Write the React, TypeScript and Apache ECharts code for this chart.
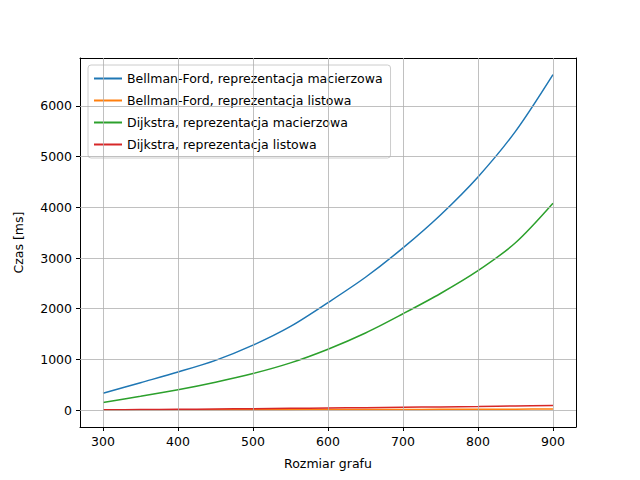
import React, { useEffect, useRef } from "react";
import * as echarts from "echarts";

const sizes = [300, 350, 400, 450, 500, 550, 600, 650, 700, 750, 800, 850, 900];
const bfMatrix = [330, 540, 750, 980, 1280, 1650, 2120, 2620, 3200, 3850, 4600, 5500, 6620];
const bfList = [2, 3, 4, 5, 6, 7, 9, 10, 11, 13, 15, 17, 20];
const djMatrix = [150, 270, 400, 550, 720, 930, 1200, 1520, 1900, 2300, 2750, 3300, 4080];
const djList = [5, 10, 15, 20, 27, 33, 40, 47, 54, 62, 70, 80, 90];
const xTicks = [300, 400, 500, 600, 700, 800, 900];
const yTicks = [0, 1000, 2000, 3000, 4000, 5000, 6000];
const names = [
  "Bellman-Ford, reprezentacja macierzowa",
  "Bellman-Ford, reprezentacja listowa",
  "Dijkstra, reprezentacja macierzowa",
  "Dijkstra, reprezentacja listowa",
];
const colors = ["#1f77b4", "#ff7f0e", "#2ca02c", "#d62728"];

export default function App() {
  const ref = useRef<HTMLDivElement>(null);
  useEffect(() => {
    const chart = echarts.init(ref.current!, null, { renderer: "svg" });
    const font = "DejaVu Sans";
    const series: any[] = [bfMatrix, bfList, djMatrix, djList].map((d, i) => ({
      name: names[i],
      type: "line",
      data: sizes.map((s, j) => [s, d[j]]),
      showSymbol: false,
      smooth: 0.3,
      lineStyle: { color: colors[i], width: 1.5 },
      itemStyle: { color: colors[i] },
      z: 3,
    }));
    series.push({
      type: "line",
      data: [],
      z: 1,
      markLine: {
        silent: true,
        symbol: "none",
        label: { show: false },
        lineStyle: { color: "#b0b0b0", type: "solid", width: 0.8 },
        data: [...xTicks.map((x) => ({ xAxis: x })), ...yTicks.map((y) => ({ yAxis: y }))],
      },
    });
    const label = { fontSize: 12.5, color: "#000", fontFamily: font, formatter: (v: number) => String(v) };
    const frame = { show: true, lineStyle: { color: "#000", width: 1 }, onZero: false };
    chart.setOption({
      animation: false,
      textStyle: { fontFamily: font },
      grid: { left: 80, right: 64, top: 58, bottom: 53 },
      legend: {
        orient: "vertical",
        left: 88,
        top: 65,
        data: names,
        icon: "rect",
        itemWidth: 28,
        itemHeight: 2,
        itemGap: 9,
        padding: [7, 8, 7, 6],
        backgroundColor: "rgba(255,255,255,0.8)",
        borderColor: "#cccccc",
        borderWidth: 1,
        borderRadius: 3,
        textStyle: { fontFamily: font, fontSize: 12.5, color: "#000" },
      },
      xAxis: [
        {
          type: "value",
          min: 269.3,
          max: 930.7,
          name: "Rozmiar grafu",
          nameLocation: "middle",
          nameGap: 30,
          nameTextStyle: { fontSize: 12.5, color: "#000", fontFamily: font },
          axisLine: frame,
          axisTick: { show: true, customValues: xTicks, length: 4, lineStyle: { color: "#000" } },
          axisLabel: { ...label, customValues: xTicks },
          splitLine: { show: false },
        },
        {
          type: "value",
          position: "top",
          min: 269.3,
          max: 930.7,
          axisLine: frame,
          axisTick: { show: false },
          axisLabel: { show: false },
          splitLine: { show: false },
        },
      ],
      yAxis: [
        {
          type: "value",
          min: -335,
          max: 6947,
          name: "Czas [ms]",
          nameLocation: "middle",
          nameGap: 55,
          nameTextStyle: { fontSize: 12.5, color: "#000", fontFamily: font },
          axisLine: frame,
          axisTick: { show: true, customValues: yTicks, length: 4, lineStyle: { color: "#000" } },
          axisLabel: { ...label, customValues: yTicks },
          splitLine: { show: false },
        },
        {
          type: "value",
          position: "right",
          min: -335,
          max: 6947,
          axisLine: frame,
          axisTick: { show: false },
          axisLabel: { show: false },
          splitLine: { show: false },
        },
      ],
      series,
    });
    return () => chart.dispose();
  }, []);
  return <div ref={ref} style={{ width: 640, height: 480, margin: -8 }} />;
}
